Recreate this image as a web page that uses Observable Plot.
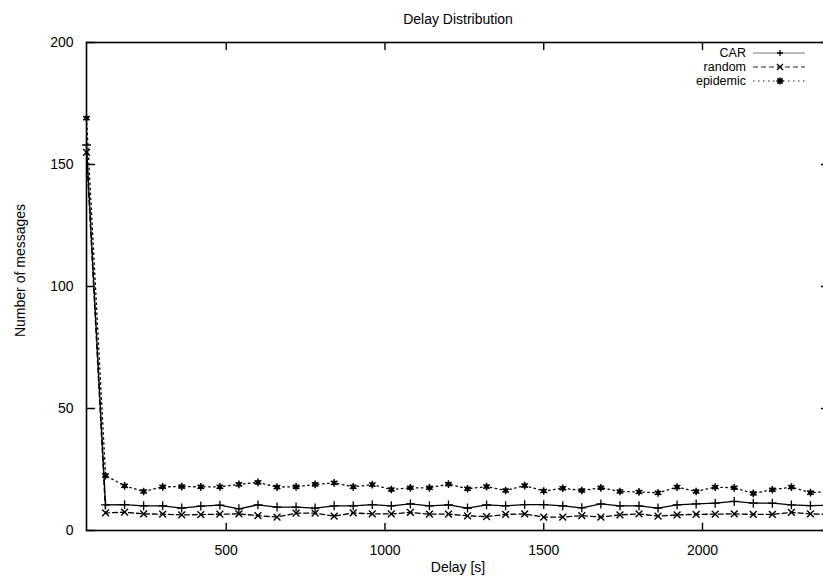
<!DOCTYPE html>
<html><head><meta charset="utf-8">
<script src="https://cdn.jsdelivr.net/npm/d3@7"></script>
<script src="https://cdn.jsdelivr.net/npm/@observablehq/plot@0.6"></script>
<style>html,body{margin:0;padding:0;background:#fff;overflow:hidden}</style>
</head><body><div id="chart"></div>
<script>
const delays = [60,120,180,240,300,360,420,480,540,600,660,720,780,840,900,960,1020,1080,1140,1200,1260,1320,1380,1440,1500,1560,1620,1680,1740,1800,1860,1920,1980,2040,2100,2160,2220,2280,2340,2400];
const carValues = [158,10.5,10.6,10.1,10.1,9.2,10,10.4,8.9,10.5,9.6,9.6,9.2,10.1,10.1,10.6,10.1,10.9,10.1,10.5,9.2,10.5,10.1,10.6,10.6,10.1,9.3,10.9,10.1,10.1,9.2,10.5,10.9,11.2,11.9,11.2,11.2,10.5,10.2,10.3];
const randomValues = [155,7.2,7.5,6.8,6.7,6.4,6.5,6.7,6.8,6.1,5.5,7.1,7.1,5.9,7.2,6.8,6.8,7.4,6.7,6.7,6.0,5.7,6.6,6.8,5.5,5.5,6.1,5.5,6.4,6.8,5.9,6.4,6.6,6.7,6.8,6.6,6.6,7.4,6.8,6.6];
const epidemicValues = [169,22.5,18.3,16,17.9,18,17.9,17.9,18.9,19.7,17.8,17.9,18.9,19.5,17.9,18.8,16.8,17.5,17.5,19,17.1,18,16.4,18.4,16.2,17.3,16.4,17.5,16.0,15.8,15.4,17.8,16,17.8,17.5,15.2,16.7,17.8,15.5,16];
const seriesNames = ["CAR","random","epidemic"];
const xTicks = [500,1000,1500,2000];
const yTicks = [0,50,100,150,200];
const xDomain = [60,2400];
const titleText = "Delay Distribution";
const xLabel = "Delay [s]";
const yLabel = "Number of messages";

const valuesBySeries = {CAR: carValues, random: randomValues, epidemic: epidemicValues};
const rows = seriesNames.flatMap(s => delays.map((d,i) => ({series: s, delay: d, value: valuesBySeries[s][i]})));
const styles = {
  CAR: {dash: null},
  random: {dash: "5,3"},
  epidemic: {dash: "1.5,3.5"}
};
const font = "Liberation Sans, Arial, Helvetica, sans-serif";
const fs = 14;
const tickShape = {draw(ctx, l) { ctx.moveTo(0, 0); ctx.lineTo(0, -l); }};
const of = s => rows.filter(r => r.series === s);
const plain = d => String(d);

const marks = [
  Plot.frame({stroke: "black", strokeWidth: 1.6}),
  // inward ticks on all four sides
  Plot.vector(xTicks, {x: d => d, frameAnchor: "bottom", length: 7, rotate: 0, anchor: "start", shape: tickShape, stroke: "black", strokeWidth: 1.4}),
  Plot.vector(xTicks, {x: d => d, frameAnchor: "top", length: 7, rotate: 180, anchor: "start", shape: tickShape, stroke: "black", strokeWidth: 1.4}),
  Plot.vector(yTicks, {y: d => d, frameAnchor: "left", length: 8, rotate: 90, anchor: "start", shape: tickShape, stroke: "black", strokeWidth: 1.4}),
  Plot.vector(yTicks, {y: d => d, frameAnchor: "right", length: 8, rotate: 270, anchor: "start", shape: tickShape, stroke: "black", strokeWidth: 1.4}),
  Plot.axisX({ticks: xTicks, tickFormat: plain, tickSize: 0, tickPadding: 15, fontSize: fs, label: null}),
  Plot.axisY({ticks: yTicks, tickFormat: plain, tickSize: 0, tickPadding: 13, fontSize: fs, label: null}),
  Plot.text([titleText], {frameAnchor: "top", dy: -28, fontSize: fs}),
  Plot.text([xLabel], {frameAnchor: "bottom", dy: 41, fontSize: fs}),
  Plot.text([yLabel], {frameAnchor: "left", textAnchor: "middle", dx: -66, dy: -16, rotate: -90, fontSize: fs}),
  ...seriesNames.map(s => Plot.line(of(s), {x: "delay", y: "value", stroke: "black", strokeWidth: 1.3, strokeDasharray: styles[s].dash})),
  Plot.dot(of("CAR"), {x: "delay", y: "value", symbol: "plus", r: 3, stroke: "black", strokeWidth: 1.3}),
  Plot.dot(of("random"), {x: "delay", y: "value", symbol: "times", r: 3.2, stroke: "black", strokeWidth: 1.4}),
  Plot.dot(of("epidemic"), {x: "delay", y: "value", symbol: "square", r: 2.4, fill: "black", stroke: "none"}),
  Plot.dot(of("epidemic"), {x: "delay", y: "value", symbol: "asterisk", r: 3.6, stroke: "black", strokeWidth: 1.5})
];

const chart = Plot.plot({
  width: 823, height: 579,
  marginLeft: 86, marginRight: -6, marginTop: 42, marginBottom: 49,
  style: {fontFamily: font, fontSize: fs + "px", color: "black", background: "white"},
  x: {domain: xDomain, axis: null},
  y: {domain: [yTicks[0], yTicks[yTicks.length - 1]], axis: null},
  marks
});
document.getElementById("chart").append(chart);

// legend (gnuplot key, top-right)
const svg = d3.select(chart);
const key = svg.append("g").attr("font-family", font).attr("font-size", 12.5);
const rowY = [53, 67, 81];
const keyLine = {CAR: "#777", random: "#222", epidemic: "#222"};
seriesNames.forEach((s, i) => {
  const y = rowY[i];
  key.append("text").attr("x", 746).attr("y", y).attr("dy", "0.35em").attr("text-anchor", "end").attr("fill", "black").text(s);
  key.append("line").attr("x1", 753).attr("x2", 805).attr("y1", y).attr("y2", y)
    .attr("stroke", keyLine[s]).attr("stroke-width", 1).attr("stroke-dasharray", styles[s].dash);
  const g = key.append("g").attr("transform", `translate(780,${y})`).attr("stroke", "black").attr("fill", "none");
  if (s === "CAR") {
    g.append("path").attr("d", "M-3,0H3M0,-3V3").attr("stroke-width", 1.3);
  } else if (s === "random") {
    g.append("path").attr("d", "M-3,-3L3,3M-3,3L3,-3").attr("stroke-width", 1.4);
  } else {
    g.append("rect").attr("x", -2.2).attr("y", -2.2).attr("width", 4.4).attr("height", 4.4).attr("fill", "black").attr("stroke", "none");
    g.append("path").attr("d", "M-3.6,0H3.6M0,-3.6V3.6M-2.6,-2.6L2.6,2.6M-2.6,2.6L2.6,-2.6").attr("stroke-width", 1.5);
  }
});
</script>
</body></html>
